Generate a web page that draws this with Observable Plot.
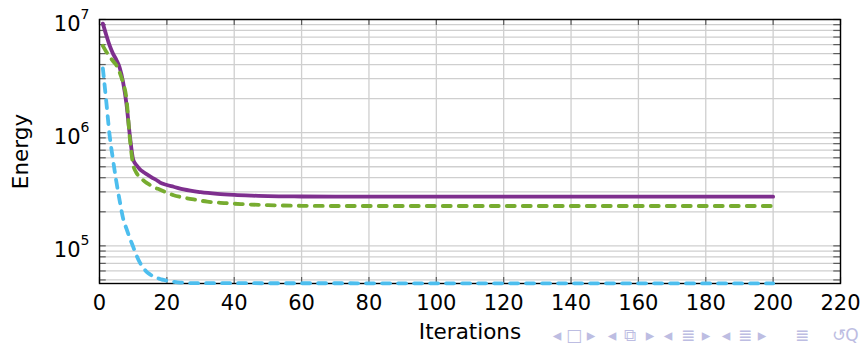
<!DOCTYPE html>
<html>
<head>
<meta charset="utf-8">
<script src="https://cdn.jsdelivr.net/npm/d3@7"></script>
<script src="https://cdn.jsdelivr.net/npm/@observablehq/plot@0.6"></script>
<style>
  body { margin: 0; background: #fff; }
  #wrap { position: relative; width: 861px; height: 348px; overflow: hidden; }
  #nav span {
    position: absolute; top: 325px; transform: translateX(-50%);
    font-family: "DejaVu Sans", sans-serif; font-size: 17px; color: #bdbde2; line-height: 20px;
  }
</style>
</head>
<body>
<div id="wrap"><div id="nav"></div></div>
<script>
// Energy per iteration for the three runs
const purpleIter   = [1, 2, 3, 4, 5, 6, 7, 8, 9, 10, 11, 12, 13, 14, 15, 16, 17, 18, 20, 22, 25, 30, 35, 40, 45, 50, 60, 70, 200];
const purpleEnergy = [9.2e6, 7.3e6, 5.9e6, 5.0e6, 4.4e6, 3.75e6, 2.8e6, 1.8e6, 9.5e5, 5.8e5, 5.15e5, 4.75e5, 4.5e5, 4.3e5, 4.12e5, 3.95e5, 3.8e5, 3.62e5, 3.45e5, 3.33e5, 3.15e5, 2.98e5, 2.88e5, 2.82e5, 2.78e5, 2.75e5, 2.73e5, 2.72e5, 2.72e5];

const greenIter   = [1, 2, 3, 4, 5, 6, 7, 8, 9, 10, 11, 12, 13, 14, 15, 16, 18, 20, 22, 25, 28, 32, 37, 42, 50, 60, 70, 200];
const greenEnergy = [5.85e6, 5.2e6, 4.7e6, 4.3e6, 3.95e6, 3.4e6, 2.75e6, 2.0e6, 9.0e5, 5.2e5, 4.4e5, 4.05e5, 3.8e5, 3.6e5, 3.45e5, 3.32e5, 3.13e5, 2.95e5, 2.8e5, 2.67e5, 2.57e5, 2.46e5, 2.39e5, 2.34e5, 2.29e5, 2.26e5, 2.25e5, 2.25e5];

const cyanIter   = [1, 2, 3, 4, 5, 6, 7, 8, 9, 10, 11, 12, 13, 14, 15, 16, 17, 18, 19, 20, 22, 24, 26, 30, 200];
const cyanEnergy = [3.7e6, 1.9e6, 9.5e5, 5.8e5, 3.7e5, 2.5e5, 1.75e5, 1.42e5, 1.17e5, 9.8e4, 8.2e4, 7.1e4, 6.4e4, 5.9e4, 5.6e4, 5.35e4, 5.2e4, 5.1e4, 5.0e4, 4.93e4, 4.82e4, 4.74e4, 4.7e4, 4.68e4, 4.66e4];

// Axis ticks
const xTicks = [0, 20, 40, 60, 80, 100, 120, 140, 160, 180, 200, 220];
const yMajor = [1e5, 1e6, 1e7];
const yExponents = ["5", "6", "7"];
const yMinor = [5e4, 6e4, 7e4, 8e4, 9e4,
                2e5, 3e5, 4e5, 5e5, 6e5, 7e5, 8e5, 9e5,
                2e6, 3e6, 4e6, 5e6, 6e6, 7e6, 8e6, 9e6];
const yLow = 4.65e4, yHigh = 1e7;
const xMax = 220;

// Navigation symbols along the bottom edge
const navSymbols = ["◂", "□", "▸", "◂", "⧉", "▸", "◂", "≣", "▸", "◂", "≣", "▸", "≣", "↺", "Q"];
const navLeft    = [557, 574, 591, 612, 630, 650, 668, 688, 706, 726, 745, 762, 802, 839, 852];

const toRows = (xs, ys) => xs.map((x, i) => ({iter: x, energy: ys[i]}));
const purple = toRows(purpleIter, purpleEnergy);
const green = toRows(greenIter, greenEnergy);
const cyan = toRows(cyanIter, cyanEnergy);
const yLabels = yMajor.map((v, i) => ({value: v, exponent: yExponents[i]}));

const yAll = yMinor.concat(yMajor);
const tickColor = "#5c5c5c";
const gridColor = "#cfcfcf";
const lineWidth = 3.8;

const chart = Plot.plot({
  width: 861,
  height: 348,
  marginLeft: 99,
  marginRight: 21,
  marginTop: 19,
  marginBottom: 65,
  style: {fontFamily: "'DejaVu Sans', sans-serif", fontSize: "21px", color: "#000", background: "#fff"},
  x: {domain: [0, xMax]},
  y: {type: "log", domain: [yLow, yHigh], axis: null},
  marks: [
    // grid
    Plot.ruleY(yAll, {stroke: gridColor, strokeWidth: 1.3}),
    Plot.ruleX(xTicks, {stroke: gridColor, strokeWidth: 1.3}),
    // inward tick marks on all four sides
    Plot.ruleY(yAll, {x1: 0, x2: 2, stroke: tickColor, strokeWidth: 1.2}),
    Plot.ruleY(yAll, {x1: xMax - 2, x2: xMax, stroke: tickColor, strokeWidth: 1.2}),
    Plot.ruleX(xTicks, {y1: yLow, y2: yLow * 1.13, stroke: tickColor, strokeWidth: 1.2}),
    Plot.ruleX(xTicks, {y1: yHigh, y2: yHigh / 1.13, stroke: tickColor, strokeWidth: 1.2}),
    Plot.frame({stroke: "#000", strokeWidth: 1.4}),
    // series
    Plot.line(purple, {x: "iter", y: "energy", stroke: "#7e2f8e", strokeWidth: lineWidth, curve: "monotone-x"}),
    Plot.line(green, {x: "iter", y: "energy", stroke: "#77ac30", strokeWidth: lineWidth, strokeDasharray: "8,8", curve: "monotone-x"}),
    Plot.line(cyan, {x: "iter", y: "energy", stroke: "#4dbeee", strokeWidth: lineWidth, strokeDasharray: "8,8", curve: "monotone-x"}),
    // x axis
    Plot.axisX({ticks: xTicks, tickSize: 0, tickPadding: 12, label: null, tickFormat: d => String(d)}),
    // y axis: powers of ten with raised exponents
    Plot.text(yLabels, {x: () => 0, y: "value", text: () => "10", textAnchor: "end", dx: -19, dy: 4.5}),
    Plot.text(yLabels, {x: () => 0, y: "value", text: "exponent", textAnchor: "start", dx: -19, dy: -5, fontSize: 14}),
    // axis titles
    Plot.text(["Iterations"], {text: d => d, frameAnchor: "bottom", textAnchor: "middle", dy: 55, fontSize: 21.5}),
    Plot.text(["Energy"], {text: d => d, frameAnchor: "left", textAnchor: "middle", rotate: -90, dx: -78, fontSize: 21.5})
  ]
});

const wrap = document.getElementById("wrap");
wrap.insertBefore(chart, wrap.firstChild);

const nav = document.getElementById("nav");
navSymbols.forEach((s, i) => {
  const span = document.createElement("span");
  span.textContent = s;
  span.style.left = navLeft[i] + "px";
  nav.appendChild(span);
});
</script>
</body>
</html>
